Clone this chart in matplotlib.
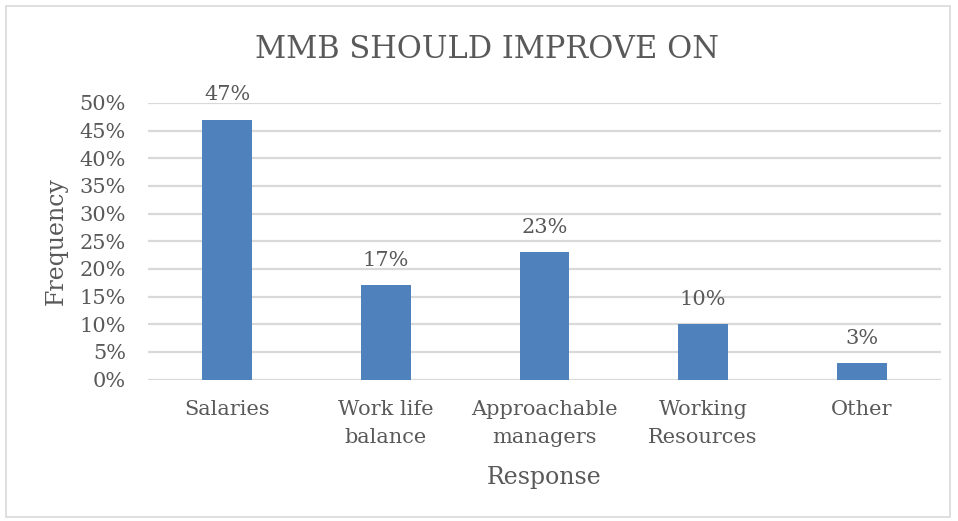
import matplotlib.pyplot as plt
from matplotlib.patches import Rectangle
from matplotlib.ticker import MultipleLocator, PercentFormatter

categories = ["Salaries", "Work life\nbalance", "Approachable\nmanagers",
              "Working\nResources", "Other"]
shares = [47, 17, 23, 10, 3]

bar_color = "#4F81BD"
text_color = "#595959"
grid_color = "#D9D9D9"

plt.rcParams["font.family"] = ["DejaVu Serif"]

fig = plt.figure(figsize=(9.58, 5.21), dpi=100)
ax = fig.add_axes([148 / 958, 1 - 379.5 / 521, 793 / 958, 276.5 / 521])

# chart frame around the whole figure
fig.patches.append(Rectangle((6 / 958, 4 / 521), 944 / 958, 511 / 521,
                             transform=fig.transFigure, fill=False,
                             edgecolor=grid_color, linewidth=1.2))

x = range(len(categories))
bars = ax.bar(x, shares, width=0.315, color=bar_color, zorder=3)
for b, v in zip(bars, shares):
    ax.annotate(f"{v}%", (b.get_x() + b.get_width() / 2, v),
                xytext=(0, 11), textcoords="offset points",
                ha="center", va="bottom", fontsize=15, color=text_color)

ax.set_xlim(-0.5, len(categories) - 0.5)
ax.set_ylim(0, 50)
ax.yaxis.set_major_locator(MultipleLocator(5))
ax.yaxis.set_major_formatter(PercentFormatter(decimals=0))
ax.grid(axis="y", color=grid_color, linewidth=1.6, zorder=0)
ax.set_xticks(list(x))
ax.set_xticklabels(categories, linespacing=1.55)
ax.tick_params(axis="both", length=0, labelsize=15, labelcolor=text_color)
ax.tick_params(axis="x", pad=15)
ax.tick_params(axis="y", pad=16)
for s in ax.spines.values():
    s.set_visible(False)

ax.set_xlabel("Response", fontsize=17, color=text_color, labelpad=14)
ax.set_ylabel("Frequency", fontsize=17, color=text_color, labelpad=8)
fig.text(487 / 958, 1 - 50 / 521, "MMB SHOULD IMPROVE ON", ha="center",
         va="center", fontsize=22, color=text_color)

fig.savefig("out.png", dpi=100)
